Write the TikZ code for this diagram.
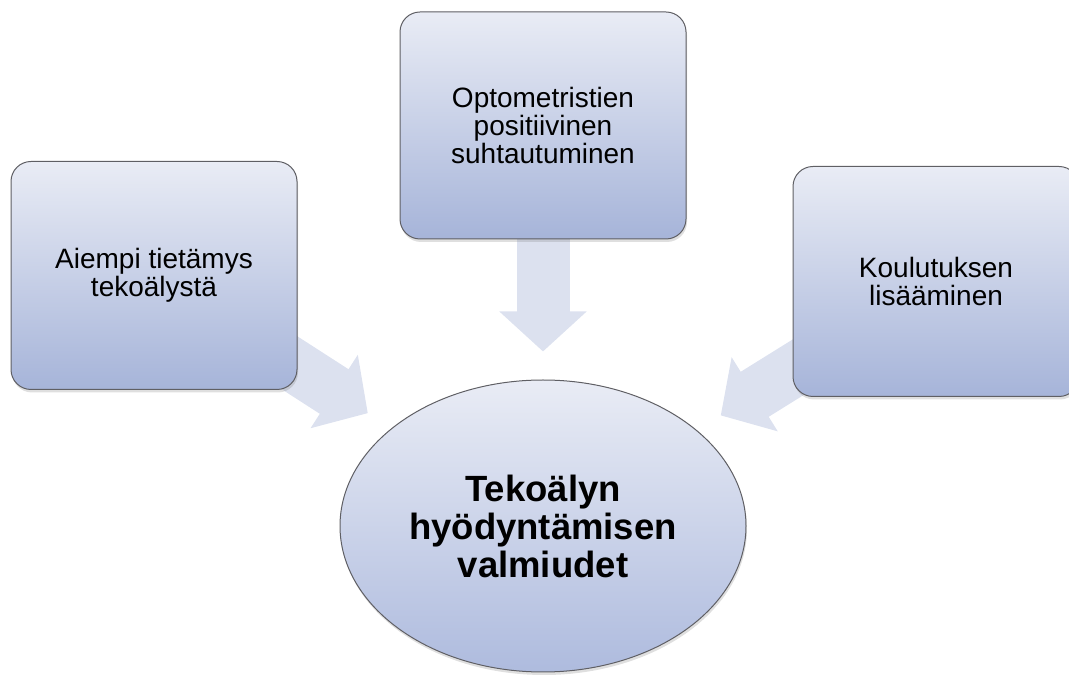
\documentclass[tikz,border=0pt]{standalone}
\usepackage{fontspec}
\setmainfont{Liberation Sans}
\usetikzlibrary{shapes.geometric, arrows.meta, positioning, backgrounds, shadows}
\definecolor{boxtop}{RGB}{233, 236, 245}
\definecolor{boxbottom}{RGB}{166, 180, 217}
\definecolor{goaltop}{RGB}{233, 236, 245}
\definecolor{goalbottom}{RGB}{174, 187, 222}
\definecolor{edgegray}{RGB}{95, 95, 100}
\definecolor{flowfill}{RGB}{220, 225, 239}

\begin{document}
\begin{tikzpicture}[
    x=1pt, y=1pt,
    box/.style={
      rectangle, rounded corners=20pt, draw=edgegray, line width=1pt,
      minimum width=286pt, minimum height=228pt, inner sep=0pt,
      align=center, font=\fontsize{28}{28}\selectfont,
      top color=boxtop, bottom color=boxbottom,
      drop shadow={shadow xshift=1pt, shadow yshift=-3pt, opacity=0.25}
    },
    goal/.style={
      ellipse, draw=edgegray, line width=1pt,
      minimum width=406pt, minimum height=292pt, inner sep=0pt,
      align=center, font=\fontsize{36.5}{38}\selectfont\bfseries,
      top color=goaltop, bottom color=goalbottom,
      drop shadow={shadow xshift=1pt, shadow yshift=-3pt, opacity=0.25}
    },
    arr/.style={-{Triangle[length=40pt, width=85pt]}, line width=53pt,
      color=flowfill, shorten >=28pt}
]
  \useasboundingbox (0,0) rectangle (1069,675);

  \node[goal] (core) at (543,149) {Tekoälyn\\hyödyntämisen\\valmiudet};
  \node[box, minimum height=227pt] (opto) [above=140pt of core]
    {Optometristien\\positiivinen\\suhtautuminen};
  \node[box] (aiempi) [left=102pt of opto, yshift=-150pt]
    {Aiempi tietämys\\tekoälystä};
  \node[box, minimum height=230pt] (koulutus) [right=106pt of opto, yshift=-156pt]
    {Koulutuksen\\lisääminen};

  \begin{pgfonlayer}{background}
    \draw[arr] (aiempi.center) -- (core);
    \draw[arr] (opto.center) -- (core);
    \draw[arr] (koulutus.center) -- (core);
  \end{pgfonlayer}
\end{tikzpicture}
\end{document}
